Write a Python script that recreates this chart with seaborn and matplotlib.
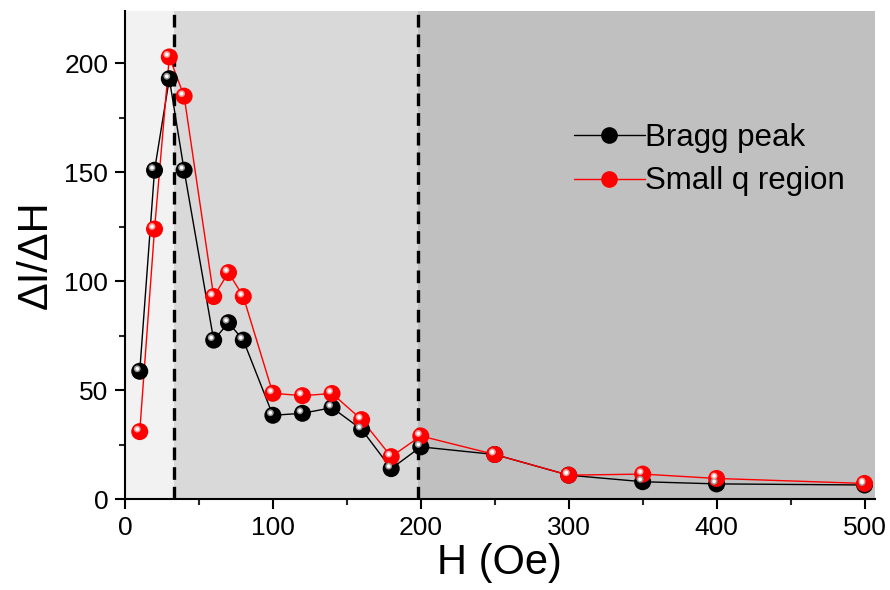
import matplotlib
matplotlib.use("Agg")
import matplotlib.pyplot as plt
import matplotlib.transforms as mtransforms
from matplotlib.lines import Line2D
from matplotlib.ticker import MultipleLocator
import seaborn as sns
import pandas as pd

# ---- data ----
H = [10, 20, 30, 40, 60, 70, 80, 100, 120, 140, 160, 180, 200, 250, 300, 350, 400, 500]
bragg = [58.7, 151, 193, 151, 73, 81, 73, 38.5, 39.4, 42, 32, 14, 24, 20.5, 11, 8, 7, 6.5]
small_q = [31, 124, 203, 185, 93, 104, 93, 48.6, 47.5, 48.5, 36.5, 19.5, 29, 20.5, 11, 11.5, 9.5, 7.2]
series_names = ["Bragg peak", "Small q region"]
region_edges = [0, 33, 198, 507]
region_colors = ["#f2f2f2", "#d9d9d9", "#c0c0c0"]
dash_positions = [33, 198]
x_ticks = [0, 100, 200, 300, 400, 500]
y_ticks = [0, 50, 100, 150, 200]

df = pd.DataFrame({
    "H": H * 2,
    "val": bragg + small_q,
    "series": [series_names[0]] * len(H) + [series_names[1]] * len(H),
})

sns.set_theme(style="ticks")
plt.rcParams["font.family"] = ["Liberation Sans", "DejaVu Sans"]

fig = plt.figure(figsize=(8.9, 5.9), dpi=100)
ax = fig.add_axes([0.1404, 0.154, 0.8426, 0.827])

for i in range(3):
    ax.axvspan(region_edges[i], region_edges[i + 1], color=region_colors[i], zorder=0, lw=0)
for xp in dash_positions:
    ax.axvline(xp, color="black", lw=2.4, ls=(0, (3.8, 2.1)), zorder=1)

palette = {series_names[0]: "black", series_names[1]: "red"}
sns.lineplot(data=df, x="H", y="val", hue="series", palette=palette, lw=1,
             ax=ax, legend=False, zorder=2, estimator=None, sort=False)
sns.scatterplot(data=df, x="H", y="val", hue="series", palette=palette, s=150,
                edgecolor="none", ax=ax, legend=False, zorder=3)
# highlight to mimic spherical markers
off = mtransforms.ScaledTranslation(-1.8 / 72, 1.8 / 72, fig.dpi_scale_trans)
hl = {series_names[0]: "#999999", series_names[1]: "#ff9a9a"}
for name in series_names:
    sub = df[df["series"] == name]
    ax.scatter(sub["H"], sub["val"], s=24, color=hl[name], edgecolor="none",
               transform=ax.transData + off, zorder=4)
    ax.scatter(sub["H"], sub["val"], s=7, color="white", edgecolor="none",
               transform=ax.transData + off, zorder=5)

ax.set_xlim(0, 507)
ax.set_ylim(0, 224)
ax.set_xticks(x_ticks)
ax.set_yticks(y_ticks)
ax.xaxis.set_minor_locator(MultipleLocator(50))
ax.yaxis.set_minor_locator(MultipleLocator(25))
ax.tick_params(which="major", direction="out", length=7, width=1.5, labelsize=19, colors="black", pad=5)
ax.tick_params(which="minor", direction="out", length=4, width=1.5)
for s in ["top", "right"]:
    ax.spines[s].set_visible(False)
for s in ["left", "bottom"]:
    ax.spines[s].set_linewidth(1.5)
    ax.spines[s].set_color("black")

ax.set_xlabel("H (Oe)", fontsize=30, labelpad=2, color="black")
ax.set_ylabel("ΔI/ΔH", fontsize=30, labelpad=6, color="black")

handles = [
    Line2D([], [], color="black", lw=1, marker="o", markersize=12, markerfacecolor="black", markeredgecolor="none"),
    Line2D([], [], color="red", lw=1, marker="o", markersize=12, markerfacecolor="red", markeredgecolor="none"),
]
ax.legend(handles, series_names, loc="upper left", bbox_to_anchor=(0.569, 0.815), frameon=False,
          fontsize=22.5, handlelength=2.3, handletextpad=0.0, labelspacing=0.42, borderpad=0.2,
          labelcolor="black")

fig.savefig("out.png", dpi=100)
